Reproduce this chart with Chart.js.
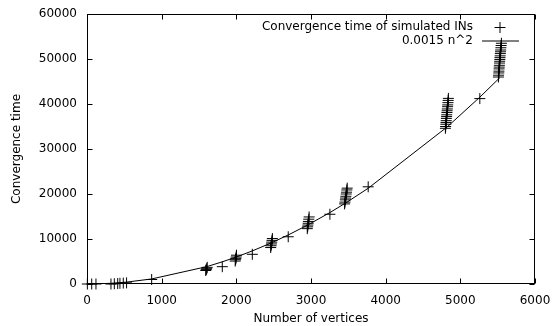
<!DOCTYPE html>
<html>
<head>
<meta charset="utf-8">
<script src="https://cdn.jsdelivr.net/npm/chart.js@4/dist/chart.umd.min.js"></script>
<style>
  html, body { margin: 0; padding: 0; background: #fff; }
  #wrap { width: 552px; height: 326px; }
</style>
</head>
<body>
<div id="wrap"><canvas id="convChart"></canvas></div>
<script>
// simulated convergence times (n vertices, time)
const simX = [
  5, 63, 120, 321, 366, 411, 441, 486, 530, 866,
  1590, 1597, 1603, 1610, 1812,
  1985, 1990, 1994, 1998, 2002, 2214,
  2460, 2465, 2470, 2474, 2478, 2483, 2695,
  2950, 2955, 2958, 2962, 2966, 2970, 2975, 3253,
  3450, 3455, 3460, 3463, 3467, 3472, 3476, 3480, 3485, 3766,
  4800, 4803, 4806, 4808, 4811, 4813, 4816, 4818, 4821, 4823, 4826, 4829, 4831, 4834, 4837, 4840,
  5261,
  5510, 5512, 5515, 5517, 5519, 5521, 5523, 5525, 5527, 5529, 5531, 5533, 5536, 5538, 5540, 5543, 5546, 5550
];
const simY = [
  0, 0, 0, 0, 50, 100, 150, 200, 250, 1000,
  3000, 3200, 3400, 3700, 3850,
  5100, 5400, 5700, 6000, 6400, 6600,
  8100, 8500, 8900, 9300, 9700, 10100, 10500,
  12300, 12700, 13100, 13500, 13900, 14400, 14900, 15500,
  17800, 18200, 18700, 19100, 19500, 20000, 20400, 20900, 21300, 21600,
  34600, 35000, 35500, 35900, 36300, 36800, 37200, 37600, 38100, 38500, 38900, 39400, 39800, 40300, 40800, 41250,
  41200,
  46000, 46400, 46900, 47300, 47800, 48200, 48600, 49100, 49500, 49900, 50300, 50700, 51200, 51600, 52000, 52500, 53000, 53500
];

// 0.0015 n^2 curve, read at the data x positions
const fitX = [0, 120, 321, 441, 530, 866, 1602, 1812, 1995, 2214, 2472, 2695, 2963, 3253, 3467, 3766, 4825, 5261, 5529];
const fitY = [0, 22, 155, 292, 421, 1125, 3850, 4925, 5970, 7353, 9166, 10895, 13169, 15873, 18030, 21275, 34922, 41517, 45855];

const xTicks = [0, 1000, 2000, 3000, 4000, 5000, 6000];
const yTicks = [0, 10000, 20000, 30000, 40000, 50000, 60000];

const seriesNames = ["Convergence time of simulated INs", "0.0015 n^2"];

Chart.defaults.font.family = "'DejaVu Sans', sans-serif";
Chart.defaults.font.size = 12;
Chart.defaults.color = "#000";

// gnuplot style frame, inward ticks and key
const framePlugin = {
  id: "frame",
  afterDatasetsDraw(chart) {
    const { ctx, chartArea: a, scales } = chart;
    const L = Math.round(a.left) + 0.5, R = Math.round(a.right) - 0.5;
    const T = Math.round(a.top) + 0.5, B = Math.round(a.bottom) - 0.5;
    ctx.save();
    ctx.strokeStyle = "#000";
    ctx.lineWidth = 1;
    ctx.beginPath();
    xTicks.forEach((v) => {
      const px = Math.round(scales.x.getPixelForValue(v)) + 0.5;
      ctx.moveTo(px, B); ctx.lineTo(px, B - 5);
      ctx.moveTo(px, T); ctx.lineTo(px, T + 5);
    });
    yTicks.forEach((v) => {
      const py = Math.round(scales.y.getPixelForValue(v)) + 0.5;
      ctx.moveTo(L, py); ctx.lineTo(L + 5, py);
      ctx.moveTo(R, py); ctx.lineTo(R - 5, py);
    });
    ctx.stroke();
    ctx.strokeRect(L, T, R - L, B - T);

    // key
    ctx.font = "12px 'DejaVu Sans'";
    ctx.fillStyle = "#000";
    ctx.textAlign = "right";
    ctx.textBaseline = "middle";
    ctx.fillText(seriesNames[0], 473, 27);
    ctx.fillText(seriesNames[1], 473, 41);
    ctx.beginPath();
    ctx.moveTo(494.5, 27.5); ctx.lineTo(505.5, 27.5);
    ctx.moveTo(500, 22); ctx.lineTo(500, 33);
    ctx.stroke();
    ctx.beginPath();
    ctx.moveTo(482, 41); ctx.lineTo(519, 41);
    ctx.stroke();
    ctx.restore();
  },
};

new Chart(document.getElementById("convChart"), {
  type: "scatter",
  data: {
    datasets: [
      {
        label: seriesNames[1],
        data: fitX.map((x, i) => ({ x, y: fitY[i] })),
        showLine: true,
        borderColor: "#000",
        borderWidth: 1,
        pointRadius: 0,
        tension: 0,
        order: 2,
      },
      {
        label: seriesNames[0],
        data: simX.map((x, i) => ({ x, y: simY[i] })),
        pointStyle: "cross",
        pointRadius: 5.5,
        borderColor: "#000",
        borderWidth: 1,
        clip: false,
        order: 1,
      },
    ],
  },
  options: {
    responsive: true,
    maintainAspectRatio: false,
    animation: false,
    layout: { padding: { left: 0, top: 14, right: 17, bottom: 0 } },
    plugins: {
      legend: { display: false },
      tooltip: { enabled: false },
    },
    scales: {
      x: {
        type: "linear",
        min: 0,
        max: 6000,
        border: { display: false },
        grid: { display: false, drawTicks: false, tickLength: 0 },
        ticks: { stepSize: 1000, padding: 10, callback: (v) => String(v) },
        title: { display: true, text: "Number of vertices", padding: { top: 0, bottom: 0 } },
        afterFit(s) { s.height = 42; s.paddingLeft = 0; s.paddingRight = 0; },
      },
      y: {
        type: "linear",
        min: 0,
        max: 60000,
        border: { display: false },
        grid: { display: false, drawTicks: false, tickLength: 0 },
        ticks: { stepSize: 10000, padding: 10, callback: (v) => String(v) },
        title: { display: true, text: "Convergence time", padding: { top: 10, bottom: 0 } },
        afterFit(s) { s.width = 87; s.paddingTop = 0; s.paddingBottom = 0; },
      },
    },
  },
  plugins: [framePlugin],
});
</script>
</body>
</html>
